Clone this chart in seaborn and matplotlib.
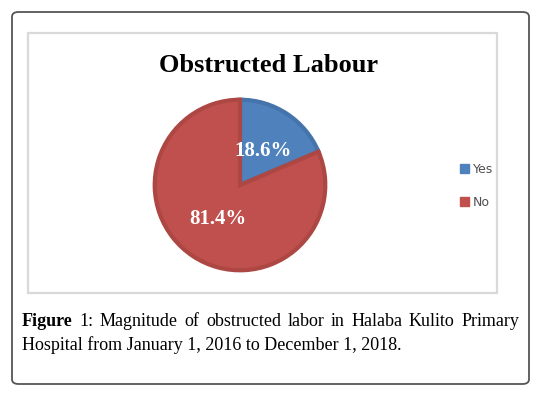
import matplotlib
matplotlib.use("Agg")
import matplotlib.pyplot as plt
import seaborn as sns
from matplotlib.patches import FancyBboxPatch, Rectangle, Patch

# datos del grafico
categorias = ['Yes', 'No']
porcentajes = [18.6, 81.4]
colores = ['#4F81BD', '#C0504D']
bordes = ['#4573AB', '#AC4744']

titulo = 'Obstructed Labour'
pie_linea1 = 'Figure 1: Magnitude of obstructed labor in Halaba Kulito Primary'
pie_linea2 = 'Hospital from January 1, 2016 to December 1, 2018.'

sns.set_style('white')
plt.rcParams['font.family'] = ['Liberation Serif', 'DejaVu Serif']
plt.rcParams['text.color'] = 'black'

W, H = 541, 396
fig = plt.figure(figsize=(W / 100, H / 100), dpi=100)

def fx(px):
    return px / W

def fy(py):
    return 1 - py / H

# caja exterior redondeada
fig.patches.append(FancyBboxPatch((fx(12), fy(384)), fx(517), (372) / H,
                                  boxstyle='round,pad=0,rounding_size=0.012',
                                  transform=fig.transFigure, fill=False,
                                  edgecolor='#555555', linewidth=1.3))
# caja del grafico
fig.patches.append(Rectangle((fx(28), fy(293)), fx(469), 260 / H,
                             transform=fig.transFigure, fill=False,
                             edgecolor='#D9D9D9', linewidth=1.6))

# pastel
r = 87
cx, cy = 240, 185
ax = fig.add_axes([fx(cx - r), fy(cy + r), 2 * r / W, 2 * r / H])
wedges, texts, autotexts = ax.pie(porcentajes, colors=colores, startangle=90,
                                  counterclock=False, autopct='%.1f%%',
                                  pctdistance=0.48,
                                  wedgeprops=dict(linewidth=3))
for w, b in zip(wedges, bordes):
    w.set_edgecolor(b)
for t in autotexts:
    t.set_color('white')
    t.set_fontweight('bold')
    t.set_fontsize(15)
ax.set_xlim(-1.02, 1.02)
ax.set_ylim(-1.02, 1.02)
ax.set_aspect('equal')
ax.axis('off')

fig.text(fx(269), fy(65), titulo, ha='center', va='center',
         fontsize=19, fontweight='bold')

handles = [Patch(facecolor=c, edgecolor=c) for c in colores]
fig.legend(handles, categorias, loc='center left',
           bbox_to_anchor=(fx(449), fy(186)), frameon=False,
           prop={'family': 'DejaVu Sans', 'size': 9},
           handlelength=0.7, handleheight=0.7, handletextpad=0.3,
           labelspacing=1.6, labelcolor='#505050')

# pie de figura, primera linea justificada
fig.canvas.draw()
rend = fig.canvas.get_renderer()
palabras = pie_linea1.split(' ')
objs = []
for i, p in enumerate(palabras):
    peso = 'semibold' if i == 0 else 'normal'
    objs.append(fig.text(0, fy(322), p, ha='left', va='center',
                         fontsize=13, fontweight=peso))
anchos = [o.get_window_extent(rend).width for o in objs]
x0, x1 = 22, 519
hueco = (x1 - x0 - sum(anchos)) / (len(palabras) - 1)
x = x0
for o, a in zip(objs, anchos):
    o.set_x(fx(x))
    x += a + hueco
fig.text(fx(22), fy(345), pie_linea2, ha='left', va='center', fontsize=13)

fig.savefig('out.png', dpi=100)
